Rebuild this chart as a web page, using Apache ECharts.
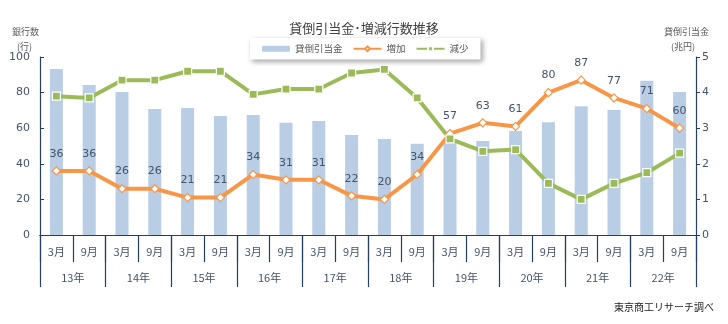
<!DOCTYPE html>
<html><head><meta charset="utf-8">
<script src="https://cdn.jsdelivr.net/npm/echarts@6/dist/echarts.min.js"></script>
<style>html,body{margin:0;padding:0;background:#fff}#c{width:728px;height:324px}</style>
</head><body><div id="c"></div>
<script>
const months = ['3月','9月','3月','9月','3月','9月','3月','9月','3月','9月','3月','9月','3月','9月','3月','9月','3月','9月','3月','9月'];
const years = ['13年','14年','15年','16年','17年','18年','19年','20年','21年','22年'];
const allowance = [4.66,4.21,4.02,3.54,3.57,3.34,3.37,3.15,3.2,2.81,2.7,2.56,2.68,2.64,2.92,3.17,3.62,3.51,4.33,4.02];
const increase = [36,36,26,26,21,21,34,31,31,22,20,34,57,63,61,80,87,77,71,60];
const decrease = [78,77,87,87,92,92,79,82,82,91,93,77,54,47,48,29,20,29,35,46];
const leftTicks = {min:0,max:100,interval:20};
const rightTicks = {min:0,max:5,interval:1};

const axisColor = '#243f60';
const labelColor = '#44546a';
const font = 'DejaVu Sans, "Noto Sans CJK JP", sans-serif';
const cjk = '"Noto Sans CJK JP", sans-serif';

const chart = echarts.init(document.getElementById('c'), null, {renderer:'canvas'});
chart.setOption({
  animation:false,
  title:{text:'貸倒引当金･増減行数推移', left:'center', top:17,
    textStyle:{fontFamily:cjk, fontSize:13, fontWeight:'normal', color:'#404040'}},
  legend:{left:250, top:38, padding:[6,12,6,12], itemGap:10, itemWidth:28, itemHeight:6,
    backgroundColor:'#fff', shadowBlur:5, shadowColor:'rgba(0,0,0,0.35)', shadowOffsetX:2, shadowOffsetY:2,
    textStyle:{fontFamily:cjk, fontSize:9.5, color:'#595959'},
    data:['貸倒引当金','増加','減少']},
  grid:{left:40, right:32, top:57, bottom:89},
  xAxis:[
    {type:'category', data:months, position:'bottom',
     axisLine:{show:true, lineStyle:{color:axisColor, width:1.2}},
     axisTick:{show:true, interval:0, alignWithLabel:false, length:27, lineStyle:{color:axisColor, width:1.2}},
     axisLabel:{interval:0, margin:11, fontFamily:cjk, fontSize:11, color:labelColor}},
    {type:'category', data:years, position:'bottom', offset:0,
     axisLine:{show:true, lineStyle:{color:axisColor, width:1.2}},
     axisTick:{show:true, interval:0, alignWithLabel:false, length:52, lineStyle:{color:axisColor, width:1.2}},
     axisLabel:{interval:0, margin:37, fontFamily:cjk, fontSize:11, color:labelColor}}
  ],
  yAxis:[
    {type:'value', position:'left', min:leftTicks.min, max:leftTicks.max, interval:leftTicks.interval,
     axisLine:{show:true, lineStyle:{color:axisColor, width:1.2}},
     axisTick:{show:true, inside:true, length:4, lineStyle:{color:axisColor}},
     splitLine:{show:false},
     axisLabel:{margin:10, fontFamily:font, fontSize:11, color:labelColor}},
    {type:'value', position:'right', min:rightTicks.min, max:rightTicks.max, interval:rightTicks.interval,
     axisLine:{show:true, lineStyle:{color:axisColor, width:1.2}},
     axisTick:{show:true, length:4, lineStyle:{color:axisColor}},
     splitLine:{show:false},
     axisLabel:{margin:6, fontFamily:font, fontSize:11, color:labelColor}}
  ],
  series:[
    {name:'貸倒引当金', type:'bar', xAxisIndex:0, yAxisIndex:1, data:allowance, barWidth:13,
     itemStyle:{color:'#b9cde5'}},
    {name:'増加', type:'line', xAxisIndex:0, yAxisIndex:0, data:increase,
     lineStyle:{color:'#f79646', width:4}, itemStyle:{color:'#fff', borderColor:'#f79646', borderWidth:1.2},
     symbol:'diamond', symbolSize:8, showAllSymbol:true,
     label:{show:true, position:'top', distance:7, fontFamily:font, fontSize:11, color:labelColor}},
    {name:'減少', type:'line', xAxisIndex:0, yAxisIndex:0, data:decrease,
     lineStyle:{color:'#9bbb59', width:4}, itemStyle:{color:'#9bbb59', borderColor:'#fff', borderWidth:1.2},
     symbol:'rect', symbolSize:8, showAllSymbol:true}
  ],
  graphic:[
    {type:'text', left:12, top:27, style:{text:'銀行数', font:'9px "Noto Sans CJK JP"', fill:'#595959'}},
    {type:'text', left:17, top:42, style:{text:'(行)', font:'9px "Noto Sans CJK JP"', fill:'#595959'}},
    {type:'text', left:664, top:27, style:{text:'貸倒引当金', font:'9px "Noto Sans CJK JP"', fill:'#595959'}},
    {type:'text', left:671, top:42, style:{text:'(兆円)', font:'9px "Noto Sans CJK JP"', fill:'#595959'}},
    {type:'text', left:614, top:302, style:{text:'東京商工リサーチ調べ', font:'10px "Noto Sans CJK JP"', fill:'#222'}}
  ]
});
</script></body></html>
